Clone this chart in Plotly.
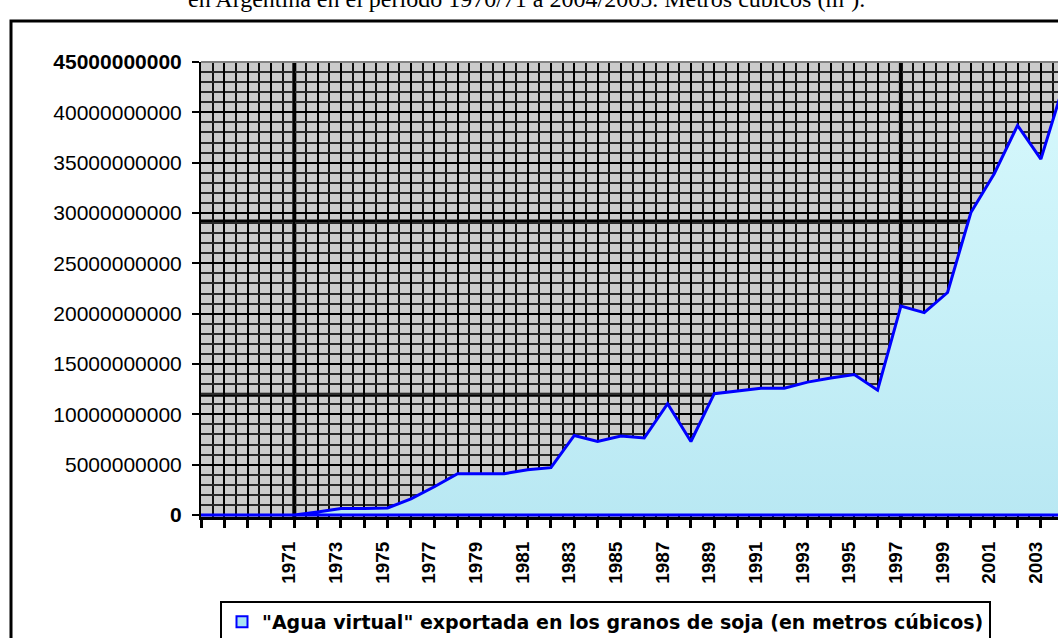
import plotly.graph_objects as go

# Campaign years on the category axis (one point per year)
years = list(range(1967, 2005))

# "Agua virtual" exported in soybean grains, cubic metres
water_m3 = [
    0, 0, 0, 0, 0,
    0.30e9, 0.65e9, 0.65e9, 0.70e9, 1.60e9,
    2.80e9, 4.10e9, 4.10e9, 4.10e9, 4.50e9,
    4.70e9, 7.90e9, 7.30e9, 7.85e9, 7.65e9,
    11.05e9, 7.30e9, 12.05e9, 12.30e9, 12.60e9,
    12.60e9, 13.20e9, 13.60e9, 13.95e9, 12.40e9,
    20.75e9, 20.10e9, 22.10e9, 30.05e9, 33.90e9,
    38.70e9, 35.35e9, 42.90e9,
]

# Years that carry a printed label on the x axis
label_years = [1971, 1973, 1975, 1977, 1979, 1981, 1983, 1985, 1987,
               1989, 1991, 1993, 1995, 1997, 1999, 2001, 2003]

series_name = '"Agua virtual" exportada en los granos de soja (en metros cúbicos)'
title_text = "en Argentina en el período 1970/71 a 2004/2005. Metros cúbicos (m³)."

y_ticks = [0, 5e9, 10e9, 15e9, 20e9, 25e9, 30e9, 35e9, 40e9, 45e9]

# ---- page geometry (pixels) ----
W, H = 1058, 638
PL, PR, PT, PB = 201, 1058, 62, 517
PX_PER_YEAR = 23.33


def fx(px):
    return (px - PL) / (PR - PL)


def fy(py):
    return (PB - py) / (PB - PT)


x_ticktext = [f"<b>{y}</b>" if y in label_years else "" for y in years]
# the two end labels of the value axis print heavier
y_ticktext = [f"<b>{int(v)}</b>" if v in (y_ticks[0], y_ticks[-1]) else f"{int(v)}"
              for v in y_ticks]

fig = go.Figure()

# area: outline runs along the data and back along the baseline
fig.add_trace(go.Scatter(
    x=years + years[::-1],
    y=water_m3 + [0] * len(years),
    mode="lines",
    fill="toself",
    fillgradient=dict(type="vertical",
                      colorscale=[[0, "#b9e8f3"], [0.5, "#c8f1f8"], [1, "#d6f8fc"]]),
    line=dict(color="#0000ff", width=3),
    showlegend=False,
    hoverinfo="skip",
))

# legend entry
fig.add_trace(go.Scatter(
    x=[None], y=[None],
    mode="markers",
    name=series_name,
    marker=dict(symbol="square", size=11, color="#a9e3f2",
                line=dict(color="#0000ff", width=2)),
))

grey_bg = "#cbcbcb"

fig.update_layout(
    width=W, height=H,
    margin=dict(l=PL, r=W - PR, t=PT, b=H - PB, autoexpand=False),
    paper_bgcolor="white",
    plot_bgcolor=grey_bg,
    font=dict(family="Liberation Sans, Arial, sans-serif", color="black"),
    xaxis=dict(
        range=[1967, 1967 + (PR - PL) / PX_PER_YEAR],
        tickmode="array", tickvals=years, ticktext=x_ticktext,
        tickangle=-90,
        tickfont=dict(size=19, color="black"),
        ticks="outside", ticklen=8, tickwidth=3, tickcolor="black",
        showline=True, linecolor="black", linewidth=3,
        showgrid=True, gridcolor="black", gridwidth=2,
        minor=dict(tick0=1967.5, dtick=1, showgrid=True,
                   gridcolor="#111111", gridwidth=2, ticks=""),
        zeroline=False,
        ticklabelstandoff=6,
        ticklabelshift=-5,
    ),
    yaxis=dict(
        range=[-0.2e9, 45e9],
        tickmode="array", tickvals=y_ticks, ticktext=y_ticktext,
        tickfont=dict(size=21, color="black"),
        ticks="outside", ticklen=7, tickwidth=2, tickcolor="black",
        showline=True, linecolor="black", linewidth=2,
        showgrid=True, gridcolor="black", gridwidth=2,
        minor=dict(dtick=1e9, tick0=0, showgrid=True,
                   gridcolor="#2a2a2a", gridwidth=2, ticks=""),
        zeroline=False,
        ticklabelstandoff=6,
    ),
    legend=dict(
        orientation="h",
        x=fx(220), y=fy(601), xanchor="left", yanchor="top",
        bgcolor="white", bordercolor="black", borderwidth=2,
        font=dict(family="DejaVu Sans, sans-serif", size=19, color="black",
                  weight="bold"),
    ),
    showlegend=True,
)

# heavier rules of the graph-paper background
shapes = []
for yr in (1971, 1997):
    shapes.append(dict(type="line", xref="x", yref="paper", x0=yr, x1=yr, y0=0, y1=1,
                       line=dict(color="black", width=4), layer="between"))
for v in (29.15e9, 11.95e9):
    shapes.append(dict(type="line", xref="paper", yref="y", x0=0, x1=1, y0=v, y1=v,
                       line=dict(color="black", width=4), layer="between"))
# grey top edge of the plot area
shapes.append(dict(type="line", xref="paper", yref="paper", x0=0, x1=1, y0=1, y1=1,
                   line=dict(color="#808080", width=2)))
# outer chart frame
shapes.append(dict(type="rect", xref="paper", yref="paper",
                   x0=fx(11), x1=fx(1080), y0=fy(670), y1=fy(21),
                   line=dict(color="black", width=3), fillcolor="rgba(0,0,0,0)"))
fig.update_layout(shapes=shapes)

# caption line above the chart
fig.add_annotation(
    text=title_text, xref="paper", yref="paper",
    x=fx(526), y=fy(14), xanchor="center", yanchor="bottom",
    showarrow=False,
    font=dict(family="Liberation Serif, Times New Roman, serif", size=24, color="black"),
)

fig.write_html("out.html")
